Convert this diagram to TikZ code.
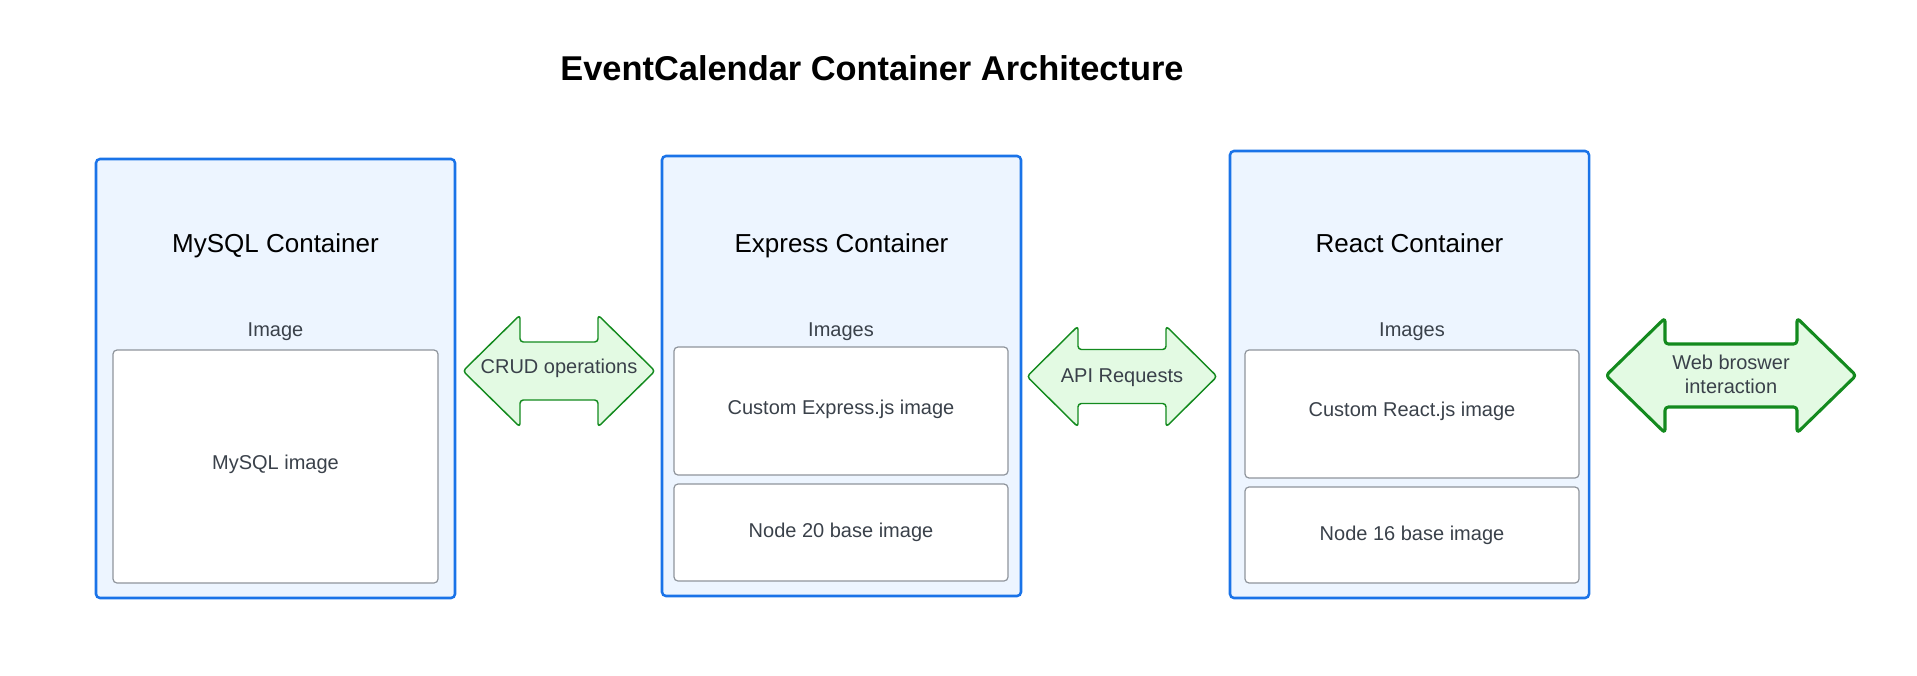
\documentclass[tikz,border=0pt]{standalone}
\usepackage{fontspec}
\setmainfont{Liberation Sans}
\usetikzlibrary{calc}

\definecolor{boxblue}{HTML}{1A73E8}
\definecolor{boxfill}{HTML}{EDF5FF}
\definecolor{imgline}{HTML}{8F959C}
\definecolor{txtgrey}{HTML}{3A414A}
\definecolor{arrgreen}{HTML}{138A1E}
\definecolor{arrfill}{HTML}{E3FAE3}

\tikzset{
  container/.style={draw=boxblue, fill=boxfill, line width=1.9pt, rounded corners=3pt,
    rectangle, anchor=north west, inner sep=0pt, outer sep=0pt, minimum width=359*0.75pt},
  imgbox/.style={draw=imgline, fill=white, line width=0.9pt, rounded corners=3pt,
    rectangle, anchor=north west, inner sep=0pt, outer sep=0pt, text=txtgrey,
    font=\fontsize{15}{18}\selectfont},
  ctitle/.style={anchor=base, font=\fontsize{19.5}{23}\selectfont},
  imglabel/.style={text=txtgrey, font=\fontsize{15}{18}\selectfont},
  twoway/.style={draw=arrgreen, fill=arrfill, rounded corners=2.5pt, line join=round},
  arrowtxt/.style={text=txtgrey, align=center, font=\fontsize{15}{18}\selectfont}
}

\begin{document}
\begin{tikzpicture}[x=0.75pt,y=-0.75pt]
  \useasboundingbox (0,0) rectangle (1917,675);

  \node[font=\bfseries\fontsize{25.8}{30}\selectfont] (title) at (872,68) {EventCalendar Container Architecture};

  % containers
  \node[container, minimum height=439*0.75pt] (mysql) at (96,159) {};
  \node[container, minimum height=440*0.75pt] (express) at (662,156) {};
  \node[container, minimum height=447*0.75pt] (react) at (1230,151) {};

  \node[ctitle] (mysqlname) at (mysql.center |- 0,252) {MySQL Container};
  \node[ctitle] (expressname) at (express.center |- 0,252) {Express Container};
  \node[ctitle] (reactname) at (react.center |- 0,252) {React Container};

  % images inside
  \node[imgbox, text depth=6.5pt, minimum width=325*0.75pt, minimum height=233*0.75pt] (mysqlimg) at (113,350) {MySQL image};
  \node[imgbox, text depth=5pt, minimum width=334*0.75pt, minimum height=128*0.75pt] (expressimg) at (674,347) {Custom Express.js image};
  \node[imgbox, minimum width=334*0.75pt, minimum height=97*0.75pt] (node20) at (674,484) {Node 20 base image};
  \node[imgbox, text depth=6.5pt, minimum width=334*0.75pt, minimum height=128*0.75pt] (reactimg) at (1245,350) {Custom React.js image};
  \node[imgbox, minimum width=334*0.75pt, minimum height=96*0.75pt] (node16) at (1245,487) {Node 16 base image};

  \node[imglabel] (mysqllbl) at ($(mysqlimg.north)+(0,-18.5)$) {Image};
  \node[imglabel] (expresslbl) at ($(expressimg.north)+(0,-15.5)$) {Images};
  \node[imglabel] (reactlbl) at ($(reactimg.north)+(0,-18.5)$) {Images};

  % double arrows between containers
  \foreach \xl/\xr/\yc/\hi/\hh/\sh/\lw in {463/655/371/57/56/29/1.1pt,1027/1217/376.5/51/50.5/27/1.1pt,1606/1856/375.5/59/57.5/31.5/2.3pt} {
    \draw[twoway, line width=\lw] (\xl,\yc) -- (\xl+\hi,\yc-\hh) -- (\xl+\hi,\yc-\sh) -- (\xr-\hi,\yc-\sh)
      -- (\xr-\hi,\yc-\hh) -- (\xr,\yc) -- (\xr-\hi,\yc+\hh) -- (\xr-\hi,\yc+\sh)
      -- (\xl+\hi,\yc+\sh) -- (\xl+\hi,\yc+\hh) -- cycle;
  }
  \node[arrowtxt] (crud) at (559,368.5) {CRUD operations};
  \node[arrowtxt] (api) at (1122,377.5) {API Requests};
  \node[arrowtxt] (web) at (1731,374) {Web broswer\\interaction};
\end{tikzpicture}
\end{document}
